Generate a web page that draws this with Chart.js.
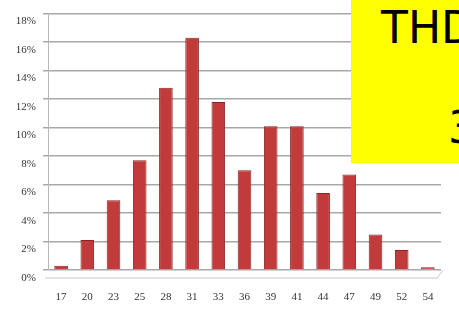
<!DOCTYPE html>
<html>
<head>
<meta charset="utf-8">
<script src="https://cdn.jsdelivr.net/npm/chart.js@4"></script>
<style>
	html, body { margin: 0; padding: 0; background: #fff; }
	#wrap { position: relative; width: 459px; height: 331px; overflow: hidden; }
	#chart { position: absolute; left: 0; top: 0; }
	#note {
		position: absolute; left: 351px; top: 0; width: 120px; height: 163px;
		background: #ffff00; color: #000;
		font-family: "DejaVu Sans", sans-serif; font-size: 44px; line-height: 1;
	}
	#note .t1 { position: absolute; left: 30px; top: 6px; }
	#note .t2 { position: absolute; left: 97px; top: 106px; }
</style>
</head>
<body>
<div id="wrap">
	<canvas id="chart" width="459" height="331"></canvas>
	<div id="note"><span class="t1">THD</span><span class="t2">3</span></div>
</div>
<script>
// distribution of THD values (share of samples, %)
const categories = ["17", "20", "23", "25", "28", "31", "33", "36", "39", "41", "44", "47", "49", "52", "54"];
const shares = [0.3, 2.1, 4.9, 7.7, 12.8, 16.3, 11.8, 7.0, 10.1, 10.1, 5.4, 6.7, 2.5, 1.4, 0.2];
const yTicks = [0, 2, 4, 6, 8, 10, 12, 14, 16, 18];

const tickFont = { family: "'Liberation Serif', serif", size: 11 };

// thin floor edge under the bars
const floorLine = {
	id: "floorLine",
	beforeDatasetsDraw(chart) {
		const { ctx, chartArea } = chart;
		ctx.save();
		ctx.strokeStyle = "#c8c8c8";
		ctx.lineWidth = 1;
		ctx.beginPath();
		ctx.moveTo(chartArea.left - 3, chartArea.bottom + 8);
		ctx.lineTo(chartArea.right - 4, chartArea.bottom + 8);
		ctx.lineTo(chartArea.right + 2, chartArea.bottom);
		ctx.stroke();
		ctx.restore();
	},
};

new Chart(document.getElementById("chart"), {
	type: "bar",
	data: {
		labels: categories,
		datasets: [
			{
				data: shares,
				backgroundColor: "#c23b3b",
				borderColor: "#8a2424",
				borderWidth: 1,
				barPercentage: 0.52,
				categoryPercentage: 1,
			},
		],
	},
	options: {
		responsive: false,
		animation: false,
		layout: { padding: { top: 12, right: 18, left: 0, bottom: 0 } },
		plugins: { legend: { display: false }, tooltip: { enabled: false } },
		scales: {
			x: {
				grid: { display: false, drawTicks: false },
				border: { display: false },
				ticks: { font: tickFont, color: "#333", padding: 21, maxRotation: 0, autoSkip: false },
				afterFit: (axis) => { axis.height = 61; },
			},
			y: {
				min: 0,
				max: 18,
				afterBuildTicks: (axis) => { axis.ticks = yTicks.map((v) => ({ value: v })); },
				grid: { color: "#a8a8a8", lineWidth: 1.5, tickLength: 5 },
				border: { display: true, color: "#b8b8b8", width: 1 },
				ticks: {
					font: tickFont,
					color: "#333",
					padding: 7,
					labelOffset: 8,
					callback: (v) => v + "%",
				},
				afterFit: (axis) => { axis.width = 48; },
			},
		},
	},
	plugins: [floorLine],
});
</script>
</body>
</html>
